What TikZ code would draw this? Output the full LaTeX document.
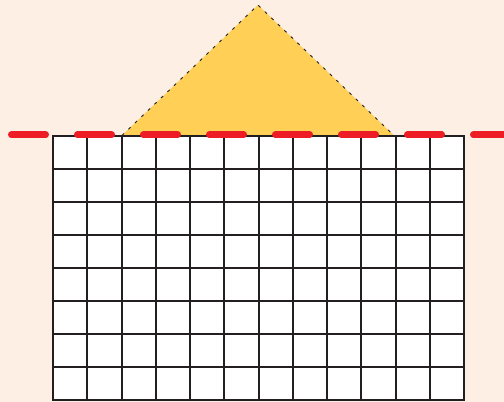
\documentclass[tikz,border=0pt]{standalone}
\definecolor{bgpeach}{HTML}{FDEFE3}
\definecolor{roofyellow}{HTML}{FFD055}
\definecolor{dashred}{HTML}{EE1C25}
\definecolor{gridink}{HTML}{231F20}
\tikzset{
  gridline/.style={draw=gridink, line width=2pt},
  roof/.style={fill=roofyellow, draw=gridink, line width=0.9pt, dash pattern=on 3pt off 6pt},
  redline/.style={draw=dashred, line width=6.5pt, line cap=round, dash pattern=on 34.5pt off 31.5pt}
}
\begin{document}
\begin{tikzpicture}[x=1pt,y=-1pt]
\fill[bgpeach] (0,0) rectangle (504,402);
\useasboundingbox (0,0) rectangle (504,402);
% triangle
\coordinate (apex) at (258,5);
\coordinate (bl) at (122,135.5);
\coordinate (br) at (394,135.5);
\path[roof] (bl) -- (apex) -- (br) -- cycle;
% grid
\fill[white] (53,135.5) rectangle (464,400);
\foreach \i in {0,...,12} {
  \draw[gridline] ({53+\i*34.25},135.5) -- ({53+\i*34.25},400);
}
\foreach \j in {0,...,8} {
  \draw[gridline] (53,{135.5+\j*33.06}) -- (464,{135.5+\j*33.06});
}
\draw[gridline] (53,135.5) rectangle (464,400);
% red dashed line
\coordinate (rs) at (11.25,134.7);
\coordinate (re) at (510,134.7);
\draw[redline] (rs) -- (re);
\end{tikzpicture}
\end{document}
